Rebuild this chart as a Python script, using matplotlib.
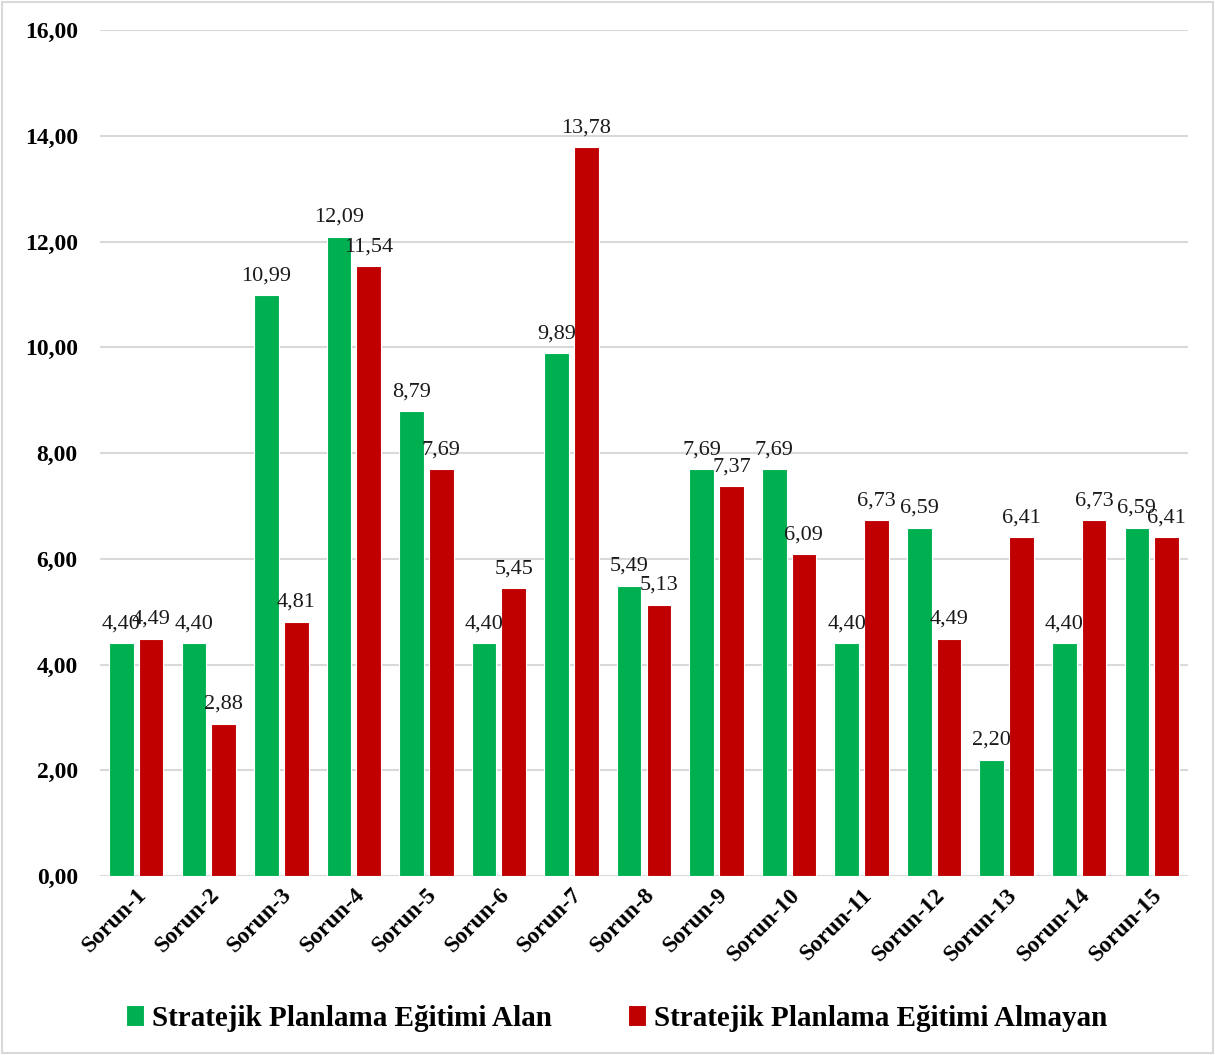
import matplotlib.pyplot as plt
import numpy as np

plt.rcParams['font.family'] = ['Liberation Serif', 'DejaVu Serif']

categories = ['Sorun-{}'.format(i) for i in range(1, 16)]
alan = [4.40, 4.40, 10.99, 12.09, 8.79, 4.40, 9.89, 5.49, 7.69, 7.69, 4.40, 6.59, 2.20, 4.40, 6.59]
almayan = [4.49, 2.88, 4.81, 11.54, 7.69, 5.45, 13.78, 5.13, 7.37, 6.09, 6.73, 4.49, 6.41, 6.73, 6.41]
series_names = ['Stratejik Planlama Eğitimi Alan', 'Stratejik Planlama Eğitimi Almayan']

GREEN = '#00B050'
RED = '#C00000'

fig = plt.figure(figsize=(12.15, 10.55), dpi=100)
ax = fig.add_axes([100 / 1215, 1 - 876 / 1055, 1088 / 1215, 846 / 1055])

x = np.arange(len(categories))
bw = 0.34
off = 0.205

b1 = ax.bar(x - off, alan, width=bw, color=GREEN, edgecolor='white', linewidth=0.8, label=series_names[0], zorder=3)
b2 = ax.bar(x + off, almayan, width=bw, color=RED, edgecolor='white', linewidth=0.8, label=series_names[1], zorder=3)

def fmt(v):
    return '{:.2f}'.format(v).replace('.', ',')

# value labels above each bar
for bars, vals in ((b1, alan), (b2, almayan)):
    for rect, v in zip(bars, vals):
        ax.annotate(fmt(v), (rect.get_x() + rect.get_width() / 2, v),
                    xytext=(0, 7), textcoords='offset points',
                    ha='center', va='bottom', fontsize=16, color='#1a1a1a', zorder=4)

ax.set_xlim(-0.5, len(categories) - 0.5)
ax.set_ylim(0, 16)
ax.set_yticks(np.arange(0, 17, 2))
ax.set_yticklabels([fmt(v) for v in np.arange(0, 17, 2)], fontsize=17, fontweight='bold')
ax.set_xticks(x)
ax.set_xticklabels(categories, rotation=45, ha='right', rotation_mode='anchor',
                   fontsize=17, fontweight='bold')
ax.tick_params(axis='x', length=0, pad=6)
ax.tick_params(axis='y', length=0, pad=16)

ax.grid(axis='y', color='#D9D9D9', linewidth=1.5, zorder=0)
for s in ax.spines.values():
    s.set_visible(False)

leg = fig.legend(handles=[b1, b2], loc='center', bbox_to_anchor=(617 / 1215, 1 - 1018 / 1055),
                 ncol=2, frameon=False, handlelength=0.6, handleheight=0.75,
                 handletextpad=0.3, columnspacing=2.6,
                 prop={'size': 21, 'weight': 'bold'})

# thin outer frame
fig.patches.append(plt.Rectangle((0.002, 0.002), 0.996, 0.996, transform=fig.transFigure,
                                 fill=False, edgecolor='#D9D9D9', linewidth=1.5))

fig.savefig('out.png', dpi=100)
